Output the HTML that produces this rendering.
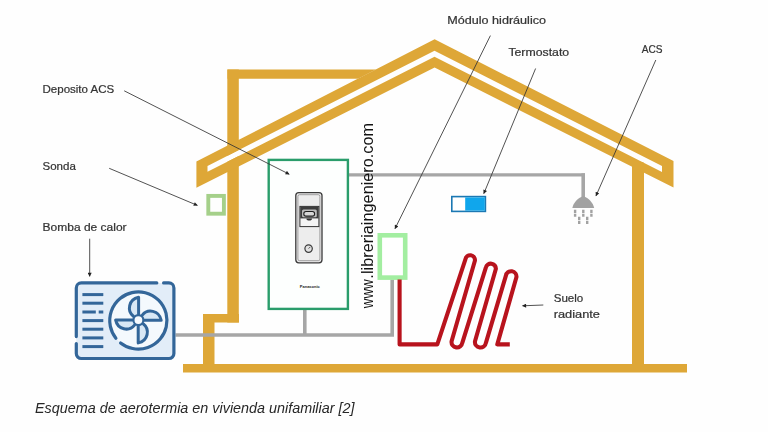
<!DOCTYPE html>
<html lang="es">
<head>
<meta charset="utf-8">
<title>Esquema de aerotermia en vivienda unifamiliar</title>
<style>
html,body{margin:0;padding:0;background:#fefefe;}
body{width:768px;height:432px;overflow:hidden;position:relative;}
svg{position:absolute;left:0;top:0;display:block;}
.lbl{font-family:"Liberation Sans","DejaVu Sans",sans-serif;font-size:11px;fill:#333;stroke:#333;stroke-width:0.22px;}
.cap{font-family:"Liberation Sans","DejaVu Sans",sans-serif;font-size:14.5px;font-style:italic;fill:#262626;}
.wm{font-family:"Liberation Sans","DejaVu Sans",sans-serif;font-size:16.3px;fill:#111;}
.pana{font-family:"Liberation Sans","DejaVu Sans",sans-serif;font-size:4.4px;font-weight:bold;fill:#222;}
</style>
</head>
<body>
<svg width="768" height="432" viewBox="0 0 768 432">
<defs>
<marker id="ah" viewBox="0 0 10 10" refX="9" refY="5" markerWidth="5" markerHeight="4" orient="auto" markerUnits="userSpaceOnUse"><path d="M0,0 L10,5 L0,10 z" fill="#222"/></marker>
</defs>
<rect x="0" y="0" width="768" height="432" fill="#fefefe"/>

<!-- HOUSE -->
<g id="house" fill="#dea737" stroke="none">
  <!-- left wall upper -->
  <rect x="227.3" y="69.5" width="11.5" height="253"/>
  <!-- top beam -->
  <polygon points="227.5,69.5 376,69.5 358,78.8 227.5,78.8"/>
  <!-- jog -->
  <rect x="203" y="314" width="36" height="8.5"/>
  <!-- left wall lower -->
  <rect x="203" y="314" width="11.5" height="52"/>
  <!-- floor -->
  <rect x="183" y="364" width="504" height="8.5"/>
  <!-- right wall -->
  <rect x="632" y="162" width="12" height="204"/>
</g>
<!-- roof band -->
<path fill="#fefefe" stroke="none" d="M207.5,165.9 L434.5,50.8 L662,166.1 L662,171.9 L434.5,56.7 L207.5,171.8 Z"/>
<path id="roof" fill="#dea737" fill-rule="evenodd" stroke="none"
 d="M196.4,161.5 L434.6,39.2 L673.5,161 L673.5,187.6 L434.6,67.5 L196.4,187.8 Z M207.5,165.9 L434.5,50.8 L662,166.1 L662,171.9 L434.5,56.7 L207.5,171.8 Z"/>

<!-- gray pipes -->
<g id="pipes" fill="none" stroke="#a6a6a6">
  <path d="M175.5,335 H392.2 V279.5" stroke-width="3.6"/>
  <path d="M304.8,310 V335" stroke-width="3.6"/>
  <path d="M349,174.9 H585" stroke-width="3.2"/>
  <path d="M583.2,173.3 V198" stroke-width="3.6"/>
</g>

<!-- tank -->
<g id="tank">
  <rect x="268.7" y="159.9" width="79.2" height="149" fill="#fdfffe" stroke="#2a9d6b" stroke-width="2.4"/>
  <rect x="295.8" y="192.6" width="26.2" height="70.2" rx="3" fill="#ededed" stroke="#3a3a3a" stroke-width="1.3"/>
  <rect x="297.9" y="194.7" width="22" height="66" rx="1.6" fill="none" stroke="#6a6a6a" stroke-width="0.6"/>
  <rect x="299.9" y="206.4" width="19" height="20.2" fill="#f4f4f4" stroke="#333" stroke-width="1"/>
  <rect x="300.2" y="206.6" width="18.4" height="11.8" fill="#3d3d3d"/>
  <rect x="302" y="209.6" width="14.8" height="7.6" rx="1.5" fill="#bcbcbc"/>
  <rect x="303.8" y="211.5" width="10.8" height="4.6" rx="2.2" fill="#d8d8d8" stroke="#1f1f1f" stroke-width="1.1"/>
  <path d="M306.4,218.4 A2.8,2 0 0 0 312,218.4 Z" fill="#333"/>
  <circle cx="308.6" cy="248.6" r="3.7" fill="#e2e2e2" stroke="#3a3a3a" stroke-width="1.2"/>
  <path d="M308.6,248.6 L310.4,246.8" stroke="#333" stroke-width="0.8"/>
  <text class="pana" opacity="0.995" x="309.8" y="287.8" text-anchor="middle" textLength="20" lengthAdjust="spacingAndGlyphs">Panasonic</text>
</g>

<!-- sonda -->
<rect x="208.3" y="195.9" width="15.6" height="17.8" fill="#fefefe" stroke="#a5d08a" stroke-width="3.9"/>

<!-- hydraulic module -->
<rect x="379.8" y="235.3" width="25.4" height="42.3" fill="#ffffff" stroke="#a3eea1" stroke-width="4.6"/>

<!-- red pipe -->
<path id="coil" fill="none" stroke="#b8131d" stroke-width="4.1" stroke-linejoin="round" stroke-linecap="butt"
 d="M399.6,279.5 V344.4 H437.3 L465.4,259.3 A4.8,4.8 0 0 1 474.9,260.7 L451.6,341.3 A5.4,5.4 0 0 0 462.3,342.8 L485.9,267.3 A5.1,5.1 0 0 1 495.9,268.8 L475,341.3 A5.5,5.5 0 0 0 485.9,342.8 L505.9,275.7 A5.3,5.3 0 0 1 516.4,277.3 L497.3,344.4 H509.8"/>

<!-- thermostat -->
<g id="thermo">
  <rect x="451.8" y="196.6" width="33.6" height="14.8" fill="#ffffff" stroke="#1b78b3" stroke-width="1.6"/>
  <rect x="465.2" y="197.4" width="19.6" height="13.2" fill="#10a6ec"/>
</g>

<!-- shower -->
<g id="shower" fill="#a2a2a2" stroke="none">
  <path d="M572.3,207.9 C573.6,202.6 577.6,198.2 583.2,196 C588.8,198.2 592.9,202.6 594.2,207.9 Z"/>
  <g stroke="#a2a2a2" stroke-width="2.4" stroke-dasharray="3.2,0.8" fill="none">
    <path d="M575.1,209.8 V216.8"/><path d="M583.3,209.8 V216.8"/><path d="M591.4,209.8 V216.8"/>
    <path d="M579.2,216.8 V224"/><path d="M587.2,216.8 V224"/>
  </g>
</g>

<!-- heat pump -->
<g id="hp" fill="none" stroke="#336699" stroke-width="3.2" stroke-linecap="round">
  <rect x="76.3" y="282.9" width="97.6" height="75.6" rx="5" fill="#e2edf8" stroke="none"/>
  <path d="M163.6,282.9 H168.9 A5,5 0 0 1 173.9,287.9 V353.5 A5,5 0 0 1 168.9,358.5 H81.3 A5,5 0 0 1 76.3,353.5 V343.6 M76.3,336.6 V287.9 A5,5 0 0 1 81.3,282.9 H156.8"/>
  <g stroke-width="3" stroke-linecap="butt">
    <path d="M82.4,294.6 H103.3"/><path d="M82.4,303.2 H103.3"/><path d="M82.4,311.9 H95.8 M98.7,311.9 H103.3"/>
    <path d="M82.4,320.6 H103.3"/><path d="M82.4,329.2 H103.3"/><path d="M82.4,337.9 H103.3"/><path d="M82.4,346.6 H103.3"/>
  </g>
  <circle cx="138.2" cy="320.3" r="28.6" fill="#f4f9fd" stroke="none"/>
  <path d="M115.9,338.2 A28.6,28.6 0 1 1 120.6,342.9"/>
  <g id="blades" fill="#d9e8f5" stroke-linejoin="round" stroke-width="3">
    <path id="bl" d="M138.6,314.2 V297.3 C128.4,299.4 126.8,311 133.4,316.2"/>
    <path d="M138.6,314.2 V297.3 C128.4,299.4 126.8,311 133.4,316.2" transform="rotate(90 138.4 320.1)"/>
    <path d="M138.6,314.2 V297.3 C128.4,299.4 126.8,311 133.4,316.2" transform="rotate(180 138.4 320.1)"/>
    <path d="M138.6,314.2 V297.3 C128.4,299.4 126.8,311 133.4,316.2" transform="rotate(270 138.4 320.1)"/>
  </g>
  <circle cx="138.4" cy="320.1" r="5" fill="#f8fbfe" stroke-width="2.2"/>
</g>

<!-- leader lines -->
<g id="leaders" fill="none" stroke="#333" stroke-width="0.85">
  <path d="M124.2,90.8 L289.2,174.2" marker-end="url(#ah)"/>
  <path d="M109.2,168.3 L197.4,205.4" marker-end="url(#ah)"/>
  <path d="M89.7,238.7 L89.7,276.4" marker-end="url(#ah)"/>
  <path d="M490.4,35.6 L395,228.7" marker-end="url(#ah)"/>
  <path d="M535.6,68.5 L483.8,193.6" marker-end="url(#ah)"/>
  <path d="M655.8,60 L596,195.8" marker-end="url(#ah)"/>
  <path d="M543.3,305 L522.5,305.8" marker-end="url(#ah)"/>
</g>

<!-- labels -->
<g id="labels" opacity="0.995">
  <text class="lbl" x="42.5" y="92.5" textLength="71.7" lengthAdjust="spacingAndGlyphs">Deposito ACS</text>
  <text class="lbl" x="42.5" y="170" textLength="33.3" lengthAdjust="spacingAndGlyphs">Sonda</text>
  <text class="lbl" x="42.6" y="230.9" textLength="84" lengthAdjust="spacingAndGlyphs">Bomba de calor</text>
  <text class="lbl" x="447.3" y="24.4" textLength="98.7" lengthAdjust="spacingAndGlyphs">Módulo hidráulico</text>
  <text class="lbl" x="508.4" y="55.7" textLength="60.8" lengthAdjust="spacingAndGlyphs">Termostato</text>
  <text class="lbl" x="641.7" y="52.5" textLength="20.8" lengthAdjust="spacingAndGlyphs">ACS</text>
  <text class="lbl" x="553.7" y="301.7" textLength="29.6" lengthAdjust="spacingAndGlyphs">Suelo</text>
  <text class="lbl" x="553.7" y="318" textLength="46.3" lengthAdjust="spacingAndGlyphs">radiante</text>
  <text class="wm" transform="translate(373.3,308.2) rotate(-90)"><tspan x="0" textLength="28.8" lengthAdjust="spacingAndGlyphs">www</tspan><tspan x="29.4">.</tspan><tspan x="34.2">libreriaingeniero.com</tspan></text>
  <text class="cap" x="35" y="412.5" textLength="319.5" lengthAdjust="spacingAndGlyphs">Esquema de aerotermia en vivienda unifamiliar [2]</text>
</g>
</svg>
</body>
</html>
